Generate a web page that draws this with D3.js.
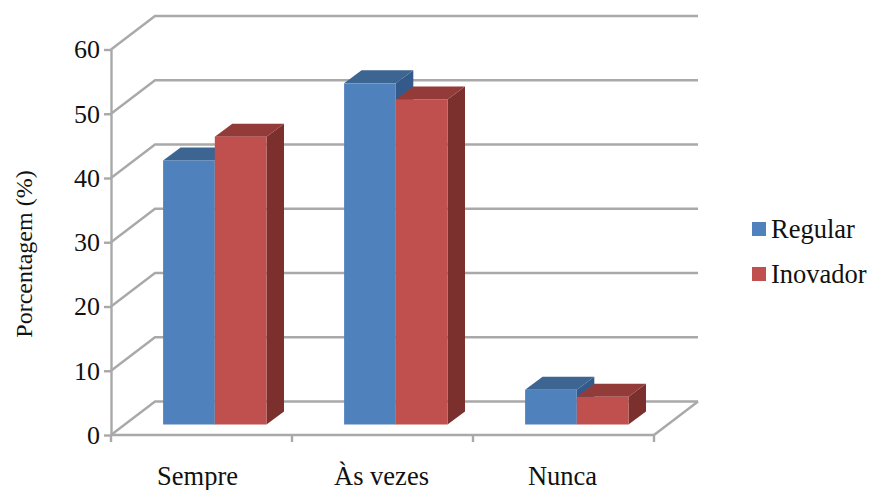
<!DOCTYPE html>
<html>
<head>
<meta charset="utf-8">
<script src="https://cdn.jsdelivr.net/npm/d3@7"></script>
<style>
  html, body { margin: 0; padding: 0; background: #fff; }
  text { font-family: "Liberation Serif", serif; fill: #111; }
</style>
</head>
<body>
<svg id="chart" width="870" height="490"></svg>
<script>
const categories = ["Sempre", "Às vezes", "Nunca"];
const seriesNames = ["Regular", "Inovador"];
const regular = [41.1, 53.1, 5.4];
const inovador = [44.8, 50.6, 4.3];
const yTicks = [0, 10, 20, 30, 40, 50, 60];
const seriesValues = [regular, inovador];

const width = 870, height = 490;
const plot = { left: 111, right: 654, top: 49.5, bottom: 435 };
const wallDepth = { dx: 44, dy: -33.5 };   // oblique offset of the back wall
const barDepth = { dx: 17.5, dy: -13 };    // oblique offset of each bar's extrusion
const barInset = { dy: -10.5 };            // bars stand slightly behind the front edge
const barW = 51.7;
const barShift = 13.3;                     // the pair sits right of the band centre

const fills = [
  { front: "#4f81bd", top: "#3c6592", side: "#335a8a" },
  { front: "#c0504d", top: "#933b39", side: "#7b302e" }
];
const gridColor = "#a9a9a9";

const svg = d3.select("#chart");

const x = d3.scaleBand().domain(categories).range([plot.left, plot.right]);
const y = d3.scaleLinear().domain([0, 60]).range([plot.bottom, plot.top]);

// Walls: a diagonal and a back line for each gridline
const grid = svg.append("g").attr("fill", "none").attr("stroke", gridColor).attr("stroke-width", 2.4);
yTicks.forEach(t => {
  const path = d3.path();
  path.moveTo(plot.left, y(t));
  path.lineTo(plot.left + wallDepth.dx, y(t) + wallDepth.dy);
  path.lineTo(plot.right + wallDepth.dx, y(t) + wallDepth.dy);
  grid.append("path").attr("d", path.toString());
});
// Right edge of the floor
grid.append("line")
  .attr("x1", plot.right).attr("y1", y(0))
  .attr("x2", plot.right + wallDepth.dx).attr("y2", y(0) + wallDepth.dy);

// Value axis
const yAxis = d3.axisLeft(y).tickValues(yTicks).tickSize(7).tickPadding(4).tickSizeOuter(0);
const gy = svg.append("g").attr("transform", `translate(${plot.left},0)`).call(yAxis);
gy.selectAll("line").attr("stroke", gridColor).attr("stroke-width", 2.4);
gy.select(".domain").attr("stroke", gridColor).attr("stroke-width", 2.4);
gy.selectAll("text").attr("font-size", 26).attr("font-family", "Liberation Serif").attr("fill", "#111");

// Category axis with ticks on the band boundaries
const xEdges = d3.scaleLinear().domain([0, categories.length]).range([plot.left, plot.right]);
const gx = svg.append("g").attr("transform", `translate(0,${plot.bottom})`);
gx.append("line").attr("x1", plot.left).attr("x2", plot.right)
  .attr("stroke", gridColor).attr("stroke-width", 2.4);
d3.range(categories.length + 1).forEach(i => {
  gx.append("line").attr("x1", xEdges(i)).attr("x2", xEdges(i)).attr("y1", 0).attr("y2", 7)
    .attr("stroke", gridColor).attr("stroke-width", 2.4);
});
const catOffsets = [-4, -1, -1];
categories.forEach((c, i) => {
  gx.append("text")
    .attr("x", x(c) + x.bandwidth() / 2 + catOffsets[i])
    .attr("y", 50)
    .attr("text-anchor", "middle")
    .attr("font-size", 26.5)
    .text(c);
});

// Extruded bars
const poly = pts => pts.map(p => p.join(",")).join(" ");
const barsLayer = svg.append("g");
categories.forEach((c, i) => {
  const x0 = x(c) + x.bandwidth() / 2 + barShift - barW;
  seriesValues.forEach((vals, s) => {
    const left = x0 + s * barW;
    const right = left + barW;
    const base = y(0) + barInset.dy;
    const top = base - (y(0) - y(vals[i]));
    const g = barsLayer.append("g");
    g.append("polygon").attr("fill", fills[s].side).attr("points", poly([
      [right, top], [right + barDepth.dx, top + barDepth.dy],
      [right + barDepth.dx, base + barDepth.dy], [right, base]
    ]));
    g.append("polygon").attr("fill", fills[s].top).attr("points", poly([
      [left, top], [left + barDepth.dx, top + barDepth.dy],
      [right + barDepth.dx, top + barDepth.dy], [right, top]
    ]));
    g.append("rect").attr("x", left).attr("y", top)
      .attr("width", barW).attr("height", base - top).attr("fill", fills[s].front);
  });
});

// Vertical axis title
svg.append("text")
  .attr("transform", "translate(32,254) rotate(-90)")
  .attr("text-anchor", "middle")
  .attr("font-size", 24)
  .text("Porcentagem (%)");

// Legend
const legendY = d3.scalePoint().domain(seriesNames).range([229, 274]);
seriesNames.forEach((name, s) => {
  svg.append("rect").attr("x", 752).attr("y", legendY(name) - 7)
    .attr("width", 14).attr("height", 14).attr("fill", fills[s].front);
  svg.append("text").attr("x", 771).attr("y", legendY(name) + 9)
    .attr("font-size", 26.5).text(name);
});
</script>
</body>
</html>
